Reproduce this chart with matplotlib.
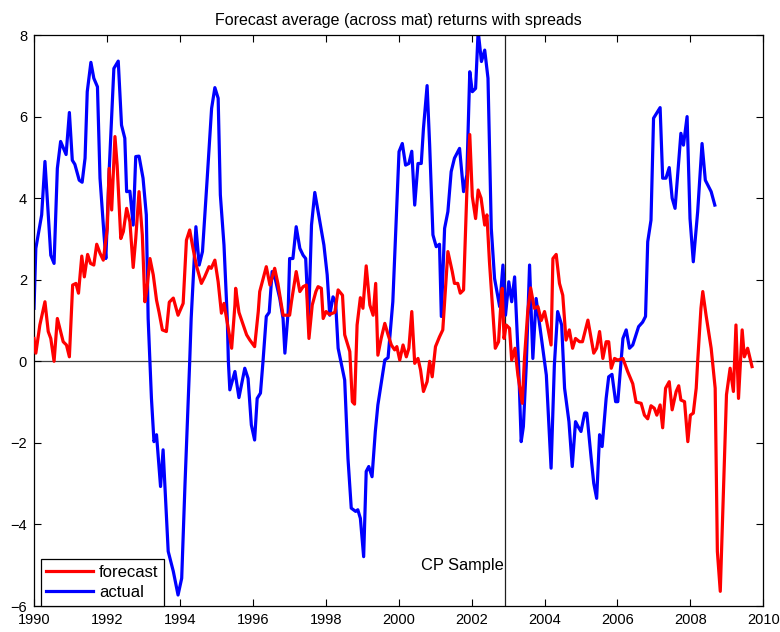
import matplotlib
matplotlib.use('Agg')
import matplotlib.pyplot as plt

# forecast series (decimal year, value)
forecast_t = [1990.00, 1990.05, 1990.16, 1990.30, 1990.39, 1990.46, 1990.55, 1990.64, 1990.73, 1990.80,
              1990.89, 1990.97, 1991.06, 1991.15, 1991.22, 1991.31, 1991.38, 1991.47, 1991.55, 1991.64,
              1991.72, 1991.81, 1991.90, 1992.01, 1992.06, 1992.13, 1992.22, 1992.28, 1992.38, 1992.45,
              1992.54, 1992.63, 1992.72, 1992.79, 1992.88, 1992.97, 1993.04, 1993.10, 1993.18, 1993.27,
              1993.36, 1993.43, 1993.52, 1993.63, 1993.71, 1993.82, 1993.95, 1994.09, 1994.18, 1994.27,
              1994.36, 1994.45, 1994.59, 1994.68, 1994.80, 1994.86, 1994.96, 1995.05, 1995.14, 1995.21,
              1995.42, 1995.51, 1995.53, 1995.62, 1995.83, 1995.92, 1996.05, 1996.15, 1996.19, 1996.37,
              1996.47, 1996.60, 1996.69, 1996.83, 1997.01, 1997.06, 1997.19, 1997.29, 1997.38, 1997.47,
              1997.54, 1997.63, 1997.73, 1997.79, 1997.88, 1997.93, 1998.01, 1998.10, 1998.25, 1998.34,
              1998.46, 1998.52, 1998.66, 1998.73, 1998.79, 1998.86, 1998.95, 1999.02, 1999.11, 1999.21,
              1999.30, 1999.37, 1999.43, 1999.52, 1999.62, 1999.71, 1999.80, 1999.89, 1999.95, 2000.03,
              2000.12, 2000.21, 2000.28, 2000.36, 2000.44, 2000.53, 2000.60, 2000.68, 2000.78, 2000.85,
              2000.92, 2001.01, 2001.12, 2001.21, 2001.35, 2001.47, 2001.53, 2001.62, 2001.69, 2001.78,
              2001.87, 2001.95, 2002.02, 2002.11, 2002.18, 2002.26, 2002.36, 2002.42, 2002.49, 2002.65,
              2002.74, 2002.79, 2002.84, 2002.89, 2002.95, 2003.04, 2003.10, 2003.19, 2003.27, 2003.39,
              2003.45, 2003.54, 2003.62, 2003.72, 2003.82, 2003.91, 2004.00, 2004.06, 2004.18, 2004.23,
              2004.32, 2004.41, 2004.50, 2004.59, 2004.68, 2004.77, 2004.85, 2004.96, 2005.04, 2005.19,
              2005.28, 2005.35, 2005.43, 2005.51, 2005.60, 2005.69, 2005.76, 2005.83, 2005.92, 2006.01,
              2006.15, 2006.28, 2006.42, 2006.51, 2006.65, 2006.74, 2006.83, 2006.92, 2007.01, 2007.08,
              2007.17, 2007.24, 2007.32, 2007.42, 2007.50, 2007.61, 2007.68, 2007.74, 2007.84, 2007.93,
              2008.00, 2008.08, 2008.16, 2008.20, 2008.29, 2008.34, 2008.43, 2008.57, 2008.68, 2008.74,
              2008.82, 2008.90, 2008.99, 2009.09, 2009.18, 2009.25, 2009.32, 2009.42, 2009.48, 2009.57,
              2009.69]
forecast_v = [0.56, 0.20, 0.89, 1.46, 0.73, 0.56, 0.00, 1.05, 0.73, 0.48,
              0.40, 0.11, 1.87, 1.91, 1.67, 2.58, 2.07, 2.62, 2.40, 2.36,
              2.87, 2.65, 2.48, 3.26, 4.73, 3.71, 5.51, 4.81, 3.01, 3.18,
              3.75, 3.42, 2.30, 3.01, 4.16, 3.10, 1.46, 1.79, 2.52, 2.12,
              1.50, 1.20, 0.77, 0.73, 1.45, 1.55, 1.13, 1.42, 2.97, 3.22,
              2.77, 2.36, 1.91, 2.07, 2.32, 2.28, 2.48, 1.95, 1.18, 1.42,
              0.32, 1.38, 1.79, 1.20, 0.65, 0.52, 0.36, 1.22, 1.71, 2.32,
              1.87, 2.28, 1.90, 1.13, 1.13, 1.46, 2.20, 1.71, 1.83, 1.87,
              0.56, 1.38, 1.71, 1.83, 1.79, 1.05, 1.22, 1.15, 1.20, 1.75,
              1.62, 0.65, 0.24, -0.99, -1.05, 0.89, 1.56, 1.30, 2.34, 1.38,
              1.13, 1.91, 0.15, 0.56, 0.93, 0.65, 0.40, 0.28, 0.36, 0.03,
              0.40, 0.11, 0.32, 1.22, -0.05, 0.07, -0.21, -0.74, -0.50, 0.00,
              -0.38, 0.36, 0.60, 0.77, 2.69, 2.20, 1.91, 1.91, 1.67, 1.75,
              4.16, 5.56, 4.04, 3.50, 4.20, 4.00, 3.34, 3.59, 2.44, 0.32,
              0.48, 1.22, 1.79, 0.56, 0.89, 0.81, 0.03, 0.32, -0.34, -1.03,
              0.07, 1.22, 1.80, 1.30, 1.34, 1.00, 1.22, 0.97, 0.40, 2.52,
              2.62, 1.91, 1.62, 0.52, 0.77, 0.32, 0.56, 0.48, 0.48, 1.01,
              0.56, 0.20, 0.32, 0.73, 0.07, 0.48, 0.48, -0.17, 0.07, 0.03,
              0.07, -0.25, -0.55, -1.00, -1.03, -1.32, -1.41, -1.09, -1.15, -1.32,
              -1.07, -1.63, -0.66, -0.50, -1.19, -0.74, -0.60, -0.95, -0.99, -1.97,
              -1.32, -1.27, -0.66, 0.00, 1.30, 1.71, 1.13, 0.32, -0.66, -4.66,
              -5.64, -3.36, -0.82, -0.17, -0.74, 0.89, -0.91, 0.77, 0.11, 0.32,
              -0.13]

# actual series (decimal year, value)
actual_t = [1990.00, 1990.05, 1990.21, 1990.30, 1990.46, 1990.55, 1990.64, 1990.73, 1990.88, 1990.97,
            1991.05, 1991.12, 1991.24, 1991.32, 1991.40, 1991.46, 1991.56, 1991.64, 1991.74, 1991.81,
            1991.92, 1991.97, 1992.06, 1992.19, 1992.31, 1992.40, 1992.49, 1992.54, 1992.63, 1992.72,
            1992.79, 1992.88, 1992.99, 1993.08, 1993.13, 1993.22, 1993.29, 1993.36, 1993.47, 1993.54,
            1993.68, 1993.82, 1993.95, 1994.05, 1994.14, 1994.27, 1994.31, 1994.44, 1994.53, 1994.62,
            1994.75, 1994.87, 1994.96, 1995.05, 1995.11, 1995.21, 1995.30, 1995.33, 1995.37, 1995.51,
            1995.62, 1995.78, 1995.87, 1995.96, 1996.05, 1996.12, 1996.21, 1996.28, 1996.37, 1996.45,
            1996.53, 1996.62, 1996.74, 1996.83, 1996.88, 1996.97, 1997.01, 1997.10, 1997.19, 1997.29,
            1997.38, 1997.45, 1997.53, 1997.61, 1997.70, 1997.84, 1997.95, 1998.04, 1998.11, 1998.20,
            1998.27, 1998.34, 1998.52, 1998.61, 1998.70, 1998.82, 1998.88, 1998.95, 1999.04, 1999.11,
            1999.18, 1999.27, 1999.36, 1999.43, 1999.62, 1999.71, 1999.80, 1999.84, 2000.01, 2000.10,
            2000.19, 2000.28, 2000.36, 2000.44, 2000.53, 2000.62, 2000.68, 2000.78, 2000.85, 2000.94,
            2001.03, 2001.12, 2001.17, 2001.26, 2001.35, 2001.44, 2001.53, 2001.67, 2001.78, 2001.87,
            2001.95, 2002.02, 2002.11, 2002.18, 2002.27, 2002.36, 2002.45, 2002.54, 2002.63, 2002.77,
            2002.86, 2002.93, 2003.02, 2003.10, 2003.18, 2003.29, 2003.36, 2003.42, 2003.50, 2003.59,
            2003.68, 2003.77, 2003.95, 2004.05, 2004.18, 2004.27, 2004.36, 2004.47, 2004.55, 2004.67,
            2004.76, 2004.85, 2004.92, 2005.00, 2005.10, 2005.16, 2005.28, 2005.35, 2005.43, 2005.51,
            2005.58, 2005.69, 2005.76, 2005.85, 2005.95, 2006.01, 2006.15, 2006.24, 2006.33, 2006.42,
            2006.58, 2006.69, 2006.77, 2006.83, 2006.92, 2006.99, 2007.17, 2007.24, 2007.33, 2007.42,
            2007.50, 2007.58, 2007.74, 2007.81, 2007.91, 2007.99, 2008.08, 2008.20, 2008.32, 2008.41,
            2008.57, 2008.67]
actual_v = [1.30, 2.77, 3.59, 4.90, 2.60, 2.40, 4.73, 5.39, 5.07, 6.10,
            4.93, 4.83, 4.44, 4.39, 4.98, 6.61, 7.33, 6.94, 6.73, 4.49,
            3.10, 2.52, 4.65, 7.18, 7.36, 5.79, 5.47, 4.16, 4.17, 3.34,
            5.02, 5.03, 4.49, 3.59, 1.05, -0.90, -1.97, -1.80, -3.07, -2.17,
            -4.66, -5.15, -5.73, -5.32, -3.03, 0.00, 1.05, 3.30, 2.36, 2.69,
            4.49, 6.20, 6.71, 6.45, 4.08, 2.85, 1.05, 0.00, -0.70, -0.25,
            -0.89, -0.17, -0.42, -1.56, -1.93, -0.91, -0.78, 0.00, 1.10, 1.20,
            2.20, 2.00, 1.54, 1.05, 0.20, 1.22, 2.52, 2.52, 3.30, 2.77,
            2.60, 2.52, 1.00, 3.34, 4.14, 3.42, 2.85, 2.12, 1.13, 1.58,
            1.46, 0.32, -0.46, -2.38, -3.60, -3.68, -3.64, -3.85, -4.79, -2.70,
            -2.58, -2.83, -1.72, -1.07, 0.03, 0.09, 1.05, 1.46, 5.14, 5.34,
            4.81, 4.85, 5.15, 3.83, 4.85, 4.85, 5.71, 6.76, 5.30, 3.10,
            2.81, 2.87, 1.10, 3.26, 3.67, 4.65, 4.98, 5.22, 4.16, 4.57,
            7.10, 6.61, 6.69, 8.10, 7.35, 7.63, 6.94, 3.26, 2.03, 1.34,
            2.36, 1.13, 1.95, 1.46, 2.07, -0.10, -1.97, -1.60, -0.09, 2.36,
            0.07, 1.54, 0.32, -0.34, -2.62, -0.09, 1.22, 0.89, -0.66, -1.48,
            -2.58, -1.48, -1.60, -1.72, -1.27, -1.27, -2.38, -2.99, -3.36, -1.80,
            -2.09, -0.91, -0.38, -0.32, -0.99, -0.99, 0.56, 0.77, 0.32, 0.40,
            0.85, 0.96, 1.10, 2.93, 3.46, 5.96, 6.22, 4.49, 4.49, 4.75,
            4.00, 3.75, 5.59, 5.30, 6.00, 3.50, 2.44, 3.67, 5.34, 4.44,
            4.16, 3.83]

sample_split = 2002.92

plt.rcParams['font.family'] = ['Liberation Sans', 'DejaVu Sans']

fig = plt.figure(figsize=(7.8, 6.32), dpi=100)
ax = fig.add_axes([0.0436, 0.0411, 0.935, 0.9035])

ax.axhline(0, color='#404040', lw=0.9, zorder=1)
ax.axvline(sample_split, color='#202020', lw=0.9, zorder=1)
ax.plot(forecast_t, forecast_v, color='red', lw=2.3, label='forecast', zorder=3)
ax.plot(actual_t, actual_v, color='blue', lw=2.3, label='actual', zorder=2)

ax.set_xlim(1990, 2010)
ax.set_ylim(-6, 8)
ax.set_xticks(range(1990, 2011, 2))
ax.set_yticks(range(-6, 9, 2))
ax.tick_params(direction='in', top=True, right=True, length=5, width=0.8, labelsize=10.5, pad=5)
for s in ax.spines.values():
    s.set_linewidth(0.9)

ax.set_title('Forecast average (across mat) returns with spreads', fontsize=11.5, pad=7)
ax.text(sample_split - 0.05, -5.0, 'CP Sample', ha='right', va='center', fontsize=11.8)

leg = ax.legend(loc='lower left', bbox_to_anchor=(0.009, 0.0), fontsize=12, fancybox=False,
                framealpha=1, edgecolor='black', handlelength=2.8, borderaxespad=0.0,
                borderpad=0.35, labelspacing=0.3, handletextpad=0.35)
leg.get_frame().set_linewidth(0.9)

fig.savefig('out.png', dpi=100)
plt.close(fig)
